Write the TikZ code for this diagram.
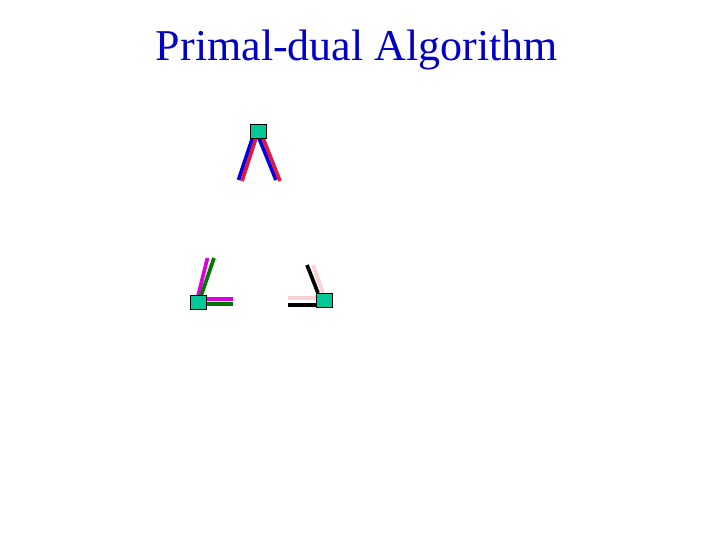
\documentclass[tikz,border=0pt]{standalone}
\usepackage{fontspec}
\setmainfont{Liberation Serif}
\definecolor{titleblue}{RGB}{0,0,200}
\definecolor{sqfill}{RGB}{0,200,150}
\definecolor{lblue}{RGB}{0,0,230}
\definecolor{lred}{RGB}{225,25,60}
\definecolor{lmag}{RGB}{220,0,220}
\definecolor{lgreen}{RGB}{0,120,0}
\definecolor{lpink}{RGB}{248,210,210}
\begin{document}
\begin{tikzpicture}[x=1pt,y=-1pt,
  sq/.style={draw=black,fill=sqfill,line width=0.9pt,minimum width=16pt,minimum height=14pt,inner sep=0pt},
  edge/.style={line width=3.7pt}]
\useasboundingbox (0,0) rectangle (720,540);
\node[text=titleblue,font=\fontsize{44}{50}\selectfont,anchor=base,inner sep=0pt] (title) at (357,61) {Primal-dual Algorithm};
% free ends
\coordinate (a1) at (238.5,180);
\coordinate (a2) at (242,181);
\coordinate (a3) at (276,180);
\coordinate (a4) at (280,181);
\coordinate (b1) at (207.5,258);
\coordinate (b2) at (214,258);
\coordinate (b3) at (233,299);
\coordinate (b4) at (233,304);
\coordinate (c1) at (307,265);
\coordinate (c2) at (313,265);
\coordinate (c3) at (288,298);
\coordinate (c4) at (288,305);
% edges
\draw[edge,lblue] (252.5,138) -- (a1);
\draw[edge,lred] (256,138) -- (a2);
\draw[edge,lblue] (259,138) -- (a3);
\draw[edge,lred] (263,138) -- (a4);
\draw[edge,lmag] (198,296) -- (b1);
\draw[edge,lgreen] (201,296) -- (b2);
\draw[edge,lmag] (206,299) -- (b3);
\draw[edge,lgreen] (206,304) -- (b4);
\draw[edge,black] (318,293) -- (c1);
\draw[edge,lpink] (323,293) -- (c2);
\draw[edge,lpink] (316,298) -- (c3);
\draw[edge,black] (316,305) -- (c4);
% squares
\node[sq] (top) at (258,131) {};
\node[sq] (bl) at (198,302) {};
\node[sq] (br) at (324,300) {};
\end{tikzpicture}
\end{document}
